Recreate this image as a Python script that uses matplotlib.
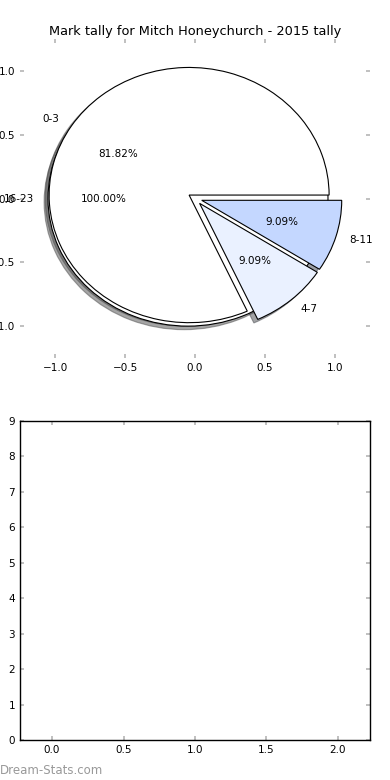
import matplotlib
matplotlib.use("Agg")
import matplotlib.pyplot as plt

# ---- data ----
title = "Mark tally for Mitch Honeychurch - 2015 tally"
categories = ["0-3", "4-7", "8-11"]
counts = [9, 1, 1]
slice_colors = ["#ffffff", "#eaf1ff", "#c4d7ff"]
extra_categories = ["16-23"]
extra_counts = [1]
pie_ticks = [-1.0, -0.5, 0.0, 0.5, 1.0]
bar_xticks = [0.0, 0.5, 1.0, 1.5, 2.0]
bar_yticks = list(range(0, 10))

plt.rcParams['font.family'] = ['DejaVu Sans']
fig = plt.figure(figsize=(3.9, 7.8), dpi=100)

tick_kw = dict(direction='in', top=True, right=True, color='#bbbbbb',
               length=3, width=1.3, labelsize=7.5, pad=3.5)

# ---- top pie axes ----
ax1 = fig.add_axes([0.0513, 0.541, 0.8974, 0.409])
wp = dict(edgecolor='black', linewidth=0.8)
tp = dict(fontsize=7.5)
ax1.pie(extra_counts, explode=[0.05] * len(extra_counts), labels=extra_categories,
        colors=["#ffffff"], autopct='%1.2f%%', shadow=True, startangle=0,
        wedgeprops=wp, textprops=tp, frame=True)
ax1.pie(counts, explode=[0.05] * len(counts), labels=categories,
        colors=slice_colors, autopct='%1.2f%%', shadow=True, startangle=0,
        wedgeprops=wp, textprops=tp, frame=True)
ax1.set_aspect('auto')
ax1.set_xlim(-1.25, 1.25)
ax1.set_ylim(-1.25, 1.25)
ax1.set_frame_on(False)
ax1.set_xticks(pie_ticks)
ax1.set_yticks(pie_ticks)
ax1.tick_params(**tick_kw)
ax1.set_title(title, fontsize=9.3, pad=3)

# ---- bottom empty axes ----
ax2 = fig.add_axes([0.0513, 0.0513, 0.8974, 0.409])
ax2.set_xlim(-0.224, 2.224)
ax2.set_ylim(0, 9)
ax2.set_xticks(bar_xticks)
ax2.set_yticks(bar_yticks)
ax2.tick_params(**tick_kw)
for s in ax2.spines.values():
    s.set_linewidth(1.0)

fig.text(0.0, 0.0125, "Dream-Stats.com", color='#999999', fontsize=8.5,
         fontweight='normal', ha='left', va='center')

fig.savefig("out.png", dpi=100)
